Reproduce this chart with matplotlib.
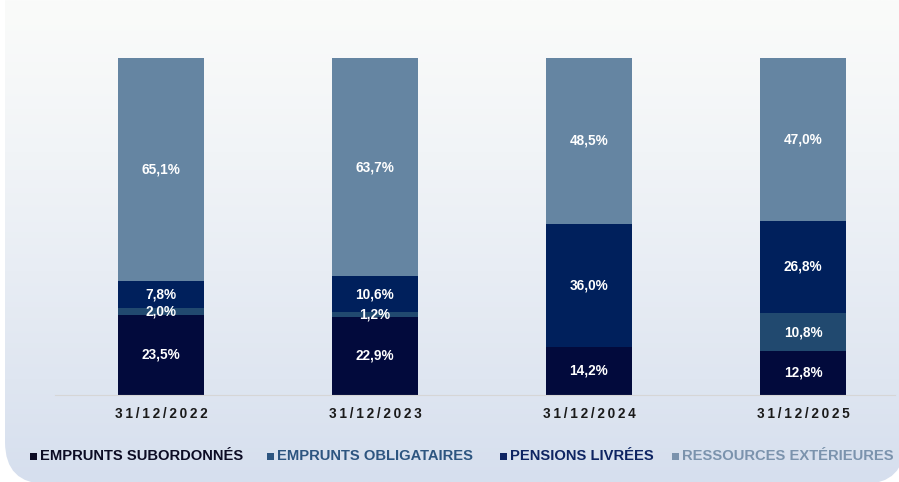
import numpy as np
import matplotlib
matplotlib.use("Agg")
import matplotlib.pyplot as plt
from matplotlib.patches import FancyBboxPatch, Rectangle
from matplotlib.colors import to_rgb

plt.rcParams["font.family"] = ["Liberation Sans", "DejaVu Sans"]

# data (percent of total resources)
dates = ["31/12/2022", "31/12/2023", "31/12/2024", "31/12/2025"]
series = ["EMPRUNTS SUBORDONNÉS", "EMPRUNTS OBLIGATAIRES",
          "PENSIONS LIVRÉES", "RESSOURCES EXTÉRIEURES"]
subordonnes = [23.5, 22.9, 14.2, 12.8]
obligataires = [2.0, 1.2, 0.0, 10.8]
pensions = [7.8, 10.6, 36.0, 26.8]
exterieures = [65.1, 63.7, 48.5, 47.0]

bar_colors = ["#020a3c", "#21496f", "#00205c", "#6585a2"]
legend_colors = ["#0c0c24", "#2d5580", "#0e2462", "#7b93ad"]

W, H = 899, 482
fig = plt.figure(figsize=(W / 100, H / 100), dpi=100)
fig.patch.set_facecolor("white")

# background panel with vertical gradient and rounded corners
bg = fig.add_axes([0, 0, 1, 1], zorder=0)
bg.set_xlim(0, W)
bg.set_ylim(H, 0)
bg.axis("off")
top, bottom = np.array(to_rgb("#fafbfa")), np.array(to_rgb("#d6dfee"))
t = np.linspace(0, 1, 256)[:, None, None] ** 1.2
grad = top + (bottom - top) * t
grad = np.repeat(grad, 2, axis=1)
im = bg.imshow(grad, extent=(0, W, H, 0), aspect="auto")
box = FancyBboxPatch((5, -60), 900, 544, boxstyle="round,pad=0,rounding_size=42",
                     transform=bg.transData, facecolor="none", edgecolor="none")
bg.add_patch(box)
im.set_clip_path(box)

# main chart
ax = fig.add_axes([55 / W, 87 / H, 840 / W, 337 / H], zorder=1)
ax.patch.set_visible(False)

data = np.array([subordonnes, obligataires, pensions, exterieures])
shares = data / data.sum(axis=0) * 100
x = np.arange(len(dates))
base = np.zeros(len(dates))
for vals, shr, col in zip(data, shares, bar_colors):
    ax.bar(x, shr, bottom=base, width=0.4, color=col, linewidth=0)
    for xi, v, s, b in zip(x, vals, shr, base):
        if v > 0:
            ax.text(xi, b + s / 2, f"{v:.1f}".replace(".", ",") + "%",
                    ha="center", va="center", color="white",
                    fontsize=9.8, fontweight="bold")
    base += shr

ax.set_xlim(-0.495, 3.43)
ax.set_ylim(0, 100)
for side in ["top", "left", "right"]:
    ax.spines[side].set_visible(False)
ax.spines["bottom"].set_color("#d6d6d6")
ax.spines["bottom"].set_linewidth(0.8)
ax.set_yticks([])
ax.set_xticks(x)
ax.set_xticklabels(["\u2009".join(d) for d in dates], fontsize=9.8,
                   fontweight="bold", color="#1a1a1a")
ax.tick_params(axis="x", length=0, pad=9)

# legend built by hand to match item spacing
legend_x = [30, 267, 500, 672]
for lx, name, col in zip(legend_x, series, legend_colors):
    fig.patches.append(Rectangle((lx / W, (H - 459.5) / H), 7 / W, 7 / H,
                                 transform=fig.transFigure, facecolor=col,
                                 edgecolor="none", zorder=3))
    fig.text((lx + 10) / W, (H - 456) / H, name, color=col, fontsize=10.6,
             fontweight="bold", ha="left", va="center", zorder=3)

fig.savefig("out.png", dpi=100)
